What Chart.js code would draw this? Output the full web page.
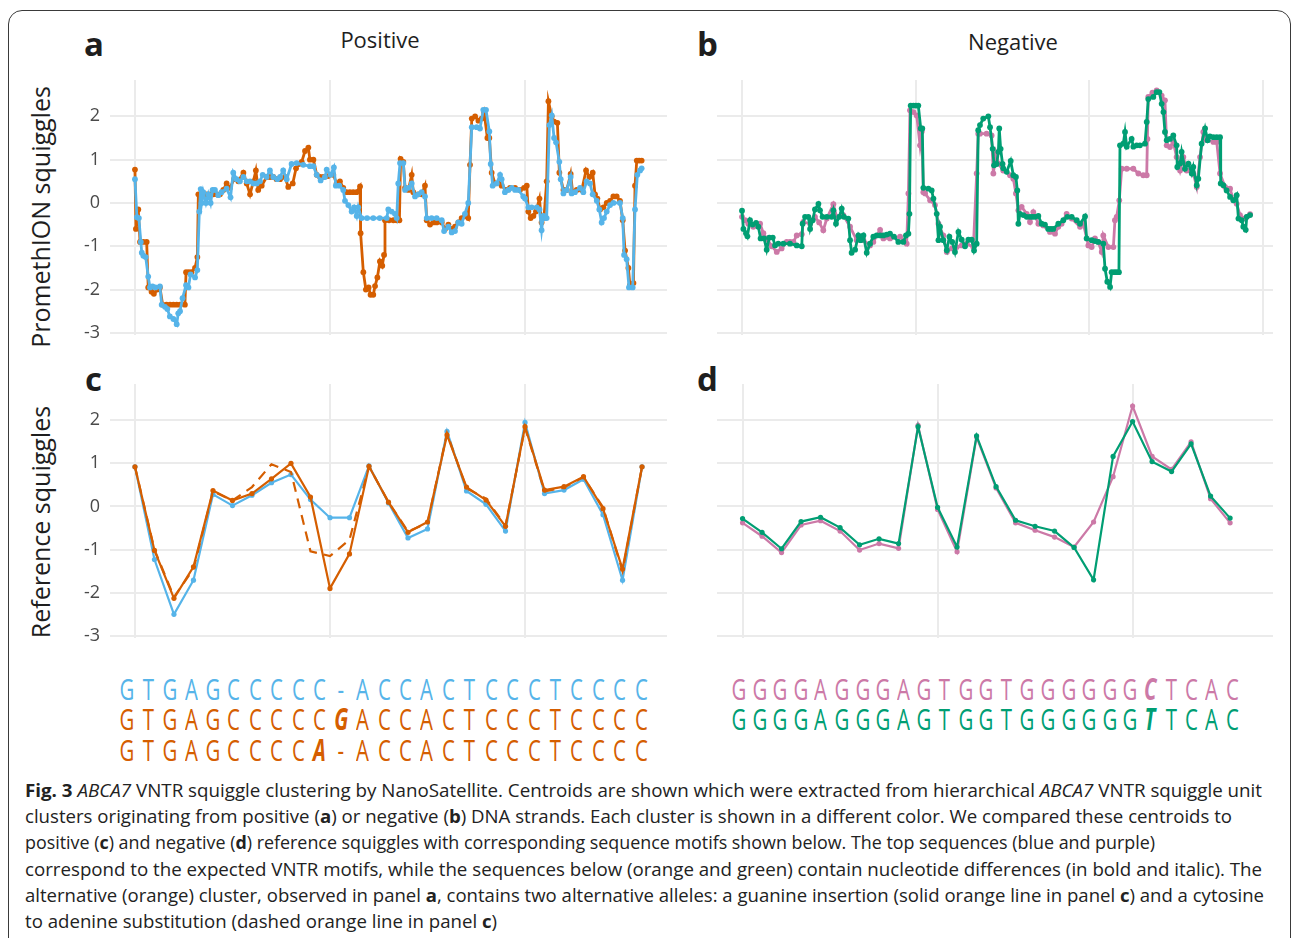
<!DOCTYPE html>
<html>
<head>
<meta charset="utf-8">
<script src="https://cdn.jsdelivr.net/npm/chart.js@4.4.1/dist/chart.umd.min.js"></script>
<style>
  body { margin: 0; width: 1292px; height: 938px; overflow: hidden; background: #fff;
         font-family: "Open Sans", sans-serif; color: #1e1e1e; position: relative; }
  .frame { position: absolute; left: 8px; top: 10px; width: 1283px; height: 980px;
           border: 1.5px solid #3a3a3a; border-radius: 14px; box-sizing: border-box; }
  canvas { position: absolute; }
  .tag { position: absolute; font-weight: 700; font-size: 33px; line-height: 1; }
  .title { position: absolute; font-size: 22px; line-height: 1; transform: translateX(-50%); white-space: nowrap; }
  .ytitle { position: absolute; font-size: 25px; line-height: 1; white-space: nowrap;
            transform: translate(-50%, -50%) rotate(-90deg); }
  .seq { position: absolute; font-size: 30px; line-height: 1; white-space: nowrap; }
  .seq .c { display: inline-block; text-align: center; }
  .seq .c span { display: inline-block; transform: scaleX(0.68); }
  .seq .c b { display: inline-block; font-style: italic; transform: scaleX(0.68); }
  .cap { position: absolute; left: 25px; font-size: 18px; line-height: 1; white-space: nowrap;
         transform-origin: 0 50%; color: #222; }
</style>
</head>
<body>
<div class="frame"></div>

<div class="tag" style="left:84px;top:27px">a</div>
<div class="tag" style="left:697px;top:27px">b</div>
<div class="tag" style="left:85px;top:362px">c</div>
<div class="tag" style="left:697px;top:362px">d</div>
<div class="title" style="left:380px;top:28px">Positive</div>
<div class="title" style="left:1013px;top:30px">Negative</div>
<div class="ytitle" style="left:40px;top:217px">PromethION squiggles</div>
<div class="ytitle" style="left:40px;top:522px">Reference squiggles</div>

<canvas id="pa" width="612" height="275" style="left:60px;top:70px"></canvas>
<canvas id="pb" width="570" height="275" style="left:710px;top:70px"></canvas>
<canvas id="pc" width="612" height="274" style="left:60px;top:374px"></canvas>
<canvas id="pd" width="570" height="274" style="left:710px;top:374px"></canvas>

<div id="seqs"></div>
<div id="caption"></div>

<script>
// panel a: positive strand centroids, [position, level]
const posBlue = [[0,0.55],[1,-0.33],[2,-0.35],[3,-0.9],[3.5,-1.15],[4.3,-1.22],[5.5,-1.25],[6.8,-1.7],[7.7,-1.95],[9,-1.93],[10.5,-1.95],[12.8,-1.93],[13.7,-2.35],[15.4,-2.4],[16.6,-2.45],[17.9,-2.62],[19.7,-2.68],[21.4,-2.8],[22.2,-2.55],[23.1,-2.5],[24.4,-2.2],[26.2,-1.9],[27.4,-1.95],[28.5,-1.65],[30.8,-1.72],[32,-1.55],[33,-0.2],[33.7,0.32],[34.2,0],[35,0.25],[36.4,0],[37.6,0.2],[38.8,0],[39.8,0.3],[41,0.3],[42.7,0.18],[44.4,0.25],[47,0.33],[49,0.13],[50.4,0.7],[52.1,0.55],[53.8,0.5],[55.6,0.6],[57.3,0.5],[59,0.5],[60.7,0.45],[62.4,0.45],[64.1,0.5],[65.5,0.65],[67.5,0.6],[69.2,0.75],[70.9,0.6],[73,0.55],[74.4,0.6],[76,0.75],[77.8,0.55],[80.3,0.9],[82.9,0.92],[86.3,0.88],[89.7,0.85],[91.5,0.85],[93.2,0.65],[95.2,0.52],[97.4,0.6],[98.3,0.77],[100.3,0.65],[102,0.82],[103,0.4],[104.8,0.4],[106.8,0.3],[107.7,0.05],[109.4,-0.05],[111.1,-0.2],[112.3,-0.1],[113.7,-0.3],[114.5,-0.1],[116.2,-0.35],[119,-0.35],[122.2,-0.35],[125.5,-0.35],[129.1,-0.35],[129.9,-0.15],[131.6,-0.2],[133.3,-0.25],[134.2,-0.35],[135,0.45],[135.9,0.92],[137.6,0.92],[138.5,0.3],[140.2,0.35],[141.9,0.45],[143.6,0.15],[145.3,0.2],[147,0.25],[148.7,0.15],[149.6,-0.35],[152.1,-0.35],[154.7,-0.35],[157.3,-0.4],[158.5,-0.65],[160.7,-0.55],[162.4,-0.68],[164.1,-0.65],[165.8,-0.45],[167.5,-0.48],[169.2,-0.25],[170.9,0],[172.7,1.75],[175.2,1.75],[176.9,1.72],[178.6,2.15],[180,2.15],[181.7,1.65],[182.4,0.9],[183.4,0.4],[185.5,0.45],[187.2,0.65],[188,0.55],[189.7,0.25],[191.5,0.3],[193.2,0.35],[194.9,0.3],[196.6,0.3],[199.1,0.15],[200,0.1],[201.7,-0.1],[203.4,-0.1],[206,-0.1],[207.4,-0.15],[208.5,-0.63],[209.4,-0.3],[210.3,-0.35],[211.1,-0.35],[212.5,1.8],[213.7,2.02],[214.9,1.5],[215.9,1.4],[217.6,0.95],[218.3,0.55],[219.7,0.22],[221.4,0.3],[223.4,0.6],[223.9,0.22],[225.6,0.25],[228.2,0.35],[229.9,0.25],[231.6,0.5],[233.3,0.45],[234.7,0.2],[236.8,0.05],[238.1,-0.15],[239.3,-0.45],[240.5,-0.35],[241.9,-0.2],[243.6,-0.05],[245.3,0],[248.7,0],[250.1,-0.35],[250.8,-1.2],[252.1,-1.3],[253.3,-1.95],[255.2,-1.95],[256.4,-0.15],[257.6,0.65],[259,0.75],[259.8,0.8]];
const posOrange = [[0,0.77],[0.5,-0.6],[1.7,-0.15],[2.6,-0.9],[4.3,-0.9],[6,-0.9],[6.8,-1.95],[8.5,-2.05],[9.7,-2.1],[11.4,-2.0],[12.8,-1.95],[14.2,-2.35],[16.2,-2.35],[18,-2.35],[19.7,-2.35],[21.4,-2.35],[23.1,-2.35],[25.6,-2.35],[26.2,-1.6],[27.6,-1.6],[29,-1.6],[30.8,-1.5],[32,-1.25],[32.5,0.2],[33.3,0.2],[35,0.2],[36.8,0.2],[38.5,0.2],[40.2,0.2],[42,0.2],[43.6,0.2],[45.3,0.3],[47,0.45],[48.7,0.35],[50.8,0.55],[53,0.5],[55.6,0.7],[57.3,0.45],[59,0.2],[60.7,0.5],[62,0.75],[63.2,0.3],[65,0.4],[67.5,0.6],[69.2,0.6],[70.9,0.6],[72.6,0.55],[74.4,0.55],[76.9,0.6],[78.6,0.37],[80.9,0.45],[82.6,0.8],[84,0.9],[85.5,0.95],[87.2,1.2],[88.9,1.28],[89.7,1.0],[91.5,1.0],[93.2,0.65],[94.9,0.6],[96.6,0.6],[99,0.62],[101.7,0.65],[103.4,0.45],[105.1,0.5],[106.8,0.35],[108.5,0.25],[110.2,0.25],[111.9,0.25],[113.6,0.25],[115.4,0.38],[115.7,-0.7],[117.1,-1.6],[118.4,-2.0],[119.8,-1.95],[120.8,-2.12],[122.2,-2.12],[123.1,-1.92],[124.3,-1.72],[125.6,-1.35],[126.8,-1.45],[127.7,-1.2],[128.2,-0.4],[130.3,-0.4],[132.5,-0.4],[134.2,-0.4],[135.6,-0.4],[136.2,1.02],[137.6,0.95],[138.5,0.35],[140.2,0.3],[141.9,0.65],[142.7,0.25],[145.3,0.2],[147,0.2],[148.7,0.4],[149.6,-0.4],[151.3,-0.5],[153,-0.45],[154.7,-0.45],[157.3,-0.45],[159,-0.6],[160.7,-0.5],[162.4,-0.6],[164.1,-0.55],[165.8,-0.45],[167.5,-0.35],[169.2,-0.3],[170.1,-0.3],[170.9,-0.35],[171.8,0.88],[172.7,1.95],[174.4,2.0],[176.1,1.9],[177.8,1.95],[179,2.1],[180.7,1.5],[181.7,1.5],[182.9,0.7],[184.6,0.45],[187.2,0.5],[188,0.4],[190.6,0.3],[192.3,0.35],[194.9,0.35],[197.4,0.3],[199.5,0.35],[200.9,0.4],[201.7,-0.2],[202.9,-0.35],[204.3,-0.3],[205.6,-0.2],[207.4,0.1],[208.5,-0.45],[209.7,-0.35],[211.1,0.5],[212,2.35],[213.7,2.0],[214.9,1.88],[216.6,1.85],[217.6,0.7],[219.7,0.3],[221.4,0.3],[223.4,0.67],[224.4,0.25],[226.5,0.3],[229.1,0.3],[231.3,0.75],[233,0.6],[234.7,0.7],[235.9,0.2],[237.1,0.1],[238.5,-0.15],[240.2,-0.1],[241.9,0],[243.6,0.05],[245.3,0.15],[247,0.15],[248.7,0.05],[250.1,-0.4],[251.3,-1.1],[253,-1.5],[253.8,-1.9],[255.6,-1.85],[256.4,0.4],[257.3,0.98],[258.5,0.98],[259.8,0.98]];

// panel b: negative strand centroids
const negGreen = [[0,-0.18],[0.8,-0.6],[2.3,-0.7],[3.1,-0.77],[4.6,-0.4],[6.1,-0.5],[8.1,-0.46],[9.4,-0.55],[10.7,-0.82],[12.7,-0.82],[14.2,-1.08],[15.7,-0.8],[17.7,-0.8],[19,-0.98],[20.9,-0.94],[23.8,-0.94],[27.6,-0.94],[31.5,-0.98],[34.4,-1.0],[34.9,-0.48],[36.3,-0.32],[38.2,-0.32],[39.2,-0.6],[40.7,-0.4],[42,-0.15],[44,-0.02],[44.9,-0.17],[46.4,-0.32],[48.8,-0.32],[51.6,-0.32],[52.6,-0.17],[54.1,-0.48],[56,-0.32],[57.4,-0.13],[58.7,-0.32],[61.2,-0.36],[62.2,-0.86],[63.1,-1.15],[65.1,-1.08],[67,-0.75],[68.3,-0.86],[69.9,-0.75],[71.8,-1.15],[73.7,-0.94],[75.6,-0.78],[77.5,-0.75],[79.5,-0.75],[81.4,-0.75],[83.3,-0.73],[85.2,-0.71],[87.5,-0.78],[90,-0.9],[92.9,-0.9],[94.4,-0.75],[95.8,-0.71],[96.4,-0.25],[97.1,2.25],[98.7,2.25],[100.1,2.25],[101.5,2.25],[102.9,1.72],[103.8,1.72],[104.4,0.35],[107.3,0.33],[109.2,0.29],[110.2,0.1],[112.1,-0.25],[113.1,-0.86],[114,-0.55],[115.9,-0.86],[117.9,-1.09],[119.4,-0.78],[121,-0.9],[122.6,-1.13],[124.6,-0.67],[126.5,-0.85],[128.4,-1.0],[130.3,-0.85],[132.2,-0.85],[133.6,-1.1],[135.1,-0.94],[136,1.68],[137,1.8],[138.9,1.95],[141.8,2.0],[142.8,1.75],[144.3,1.25],[145.1,0.87],[146.6,0.9],[147.6,1.18],[148.1,1.72],[148.9,1.25],[150,0.9],[150.4,0.8],[152.4,0.72],[154.7,0.97],[156.2,0.64],[157.7,0.6],[158.5,0.29],[159.1,-0.48],[160,-0.25],[162,-0.28],[163.9,-0.32],[165.8,-0.32],[167.3,-0.32],[168.7,-0.32],[170.6,-0.3],[172.5,-0.48],[174.4,-0.5],[176.3,-0.6],[177.8,-0.6],[179.2,-0.6],[182.1,-0.48],[185,-0.4],[187.3,-0.32],[189.8,-0.32],[192.7,-0.4],[194.6,-0.48],[197.5,-0.31],[198.4,-0.82],[201.3,-0.86],[203.2,-0.88],[205.1,-0.9],[208,-0.94],[209,-1.52],[210.3,-1.82],[211.9,-1.94],[212.8,-1.6],[214.3,-1.6],[215.7,-1.6],[217,-1.6],[217.6,1.33],[219.5,1.37],[220.5,1.64],[221.5,1.3],[224.3,1.48],[225.3,1.3],[227.2,1.33],[229.1,1.33],[232,1.37],[233,1.87],[233.9,2.4],[236.8,2.45],[238.7,2.56],[240.3,2.56],[241.6,2.29],[242.6,2.1],[243.5,1.64],[244.5,1.45],[246.4,1.48],[248.3,1.56],[250.2,1.33],[250.6,0.83],[252.2,0.91],[253.1,1.18],[255,0.79],[257,0.91],[258.9,0.68],[259.8,0.83],[261.8,0.41],[262.7,0.56],[264.6,1.37],[266.6,1.72],[268.1,1.45],[269.4,1.54],[271.4,1.52],[273.3,1.52],[275.2,1.52],[275.6,0.45],[277.1,0.41],[279,0.29],[281,0.14],[282.9,0.06],[284.8,0.18],[285.8,-0.36],[287.7,-0.4],[288.6,-0.55],[290,-0.62],[290.6,-0.32],[292.5,-0.28]];
const negPink = [[0,-0.32],[1.7,-0.4],[3.6,-0.48],[6.5,-0.55],[10.4,-0.48],[12.3,-0.7],[14.7,-0.85],[17.1,-1.0],[20,-1.13],[22.8,-1.05],[25.7,-0.9],[27.6,-0.9],[29.6,-0.9],[31.5,-0.75],[34.4,-0.72],[35.3,-0.44],[39.2,-0.48],[42,-0.32],[44.4,-0.45],[46.8,-0.63],[48.8,-0.36],[52.6,-0.03],[54.5,-0.32],[58.3,-0.28],[62.2,-0.55],[66,-0.86],[69.9,-0.86],[73.7,-0.98],[75.6,-0.9],[79.5,-0.62],[81.4,-0.82],[85.2,-0.82],[91,-0.78],[94.8,-0.94],[95.8,0.22],[96.7,2.14],[98.7,2.1],[100.6,2.02],[102.5,1.33],[103.5,1.65],[104.4,0.25],[105.4,0.22],[108.3,0.06],[111.1,-0.05],[113.1,-0.48],[115.9,-0.75],[117.9,-1.13],[120.8,-1.05],[123.6,-1.02],[126.5,-0.98],[129.4,-0.94],[133.2,-1.02],[135.1,0.68],[136,1.6],[137,1.6],[140.8,1.6],[143.7,1.56],[144.7,0.68],[146.2,1.14],[147.6,0.91],[150.4,0.75],[154.3,0.64],[156.2,0.56],[157.7,0.22],[159.1,-0.17],[161,-0.09],[163.9,-0.25],[165.8,-0.44],[167.7,-0.21],[170.6,-0.48],[173.5,-0.52],[177.3,-0.67],[180.2,-0.71],[182.1,-0.55],[184,-0.48],[186.9,-0.25],[189.8,-0.36],[194.6,-0.55],[196.5,-0.48],[199.4,-0.98],[201.3,-1.02],[203.2,-0.82],[205.1,-0.9],[207.1,-1.13],[208,-0.75],[210.9,-1.02],[213.8,-1.02],[214.7,-0.4],[215.7,-0.32],[217.2,0.06],[218.6,0.79],[221.5,0.79],[225.3,0.79],[228.2,0.68],[231,0.64],[233,0.64],[233.4,1.48],[233.9,2.45],[236.3,2.55],[238.7,2.6],[241.6,2.48],[243.5,2.37],[244.5,1.33],[246.4,1.29],[248.3,1.41],[250.2,1.06],[252.2,0.75],[254.1,1.06],[256,0.75],[259.8,0.68],[261.8,0.37],[263.7,1.06],[265.6,1.64],[267.5,1.45],[271.4,1.41],[273.3,1.41],[275.2,0.68],[278.1,0.37],[281,0.33],[282.9,0.06],[284.8,-0.02],[286.7,-0.28],[288.6,-0.36],[290.6,-0.32],[292.5,-0.26]];

// panel c: positive reference squiggles, one value per k-mer
const refPosIdx = [0,1,2,3,4,5,6,7,8,9,10,11,12,13,14,15,16,17,18,19,20,21,22,23,24,25,26];
const refPosBlue = [0.92,-1.23,-2.5,-1.71,0.28,0.02,0.26,0.55,0.74,0.16,-0.26,-0.26,0.94,0.08,-0.73,-0.52,1.74,0.36,0.05,-0.57,1.95,0.3,0.38,0.63,-0.19,-1.71,0.92];
const refPosInsG = [0.92,-1.02,-2.13,-1.4,0.37,0.14,0.3,0.64,1.0,0.22,-1.9,-1.1,0.93,0.1,-0.6,-0.36,1.66,0.45,0.15,-0.46,1.85,0.38,0.46,0.69,-0.05,-1.45,0.92];
const refPosSubA = [0.92,-1.0,-2.1,-1.45,0.35,0.14,0.45,0.98,0.8,-1.04,-1.15,-0.77,0.93,0.1,-0.58,-0.38,1.7,0.42,0.18,-0.45,1.83,0.35,0.44,0.68,-0.02,-1.5,0.92];

// panel d: negative reference squiggles
const refNegIdx = [0,1,2,3,4,5,6,7,8,9,10,11,12,13,14,15,16,17,18,19,20,21,22,23,24,25];
const refNegPink = [-0.38,-0.69,-1.07,-0.43,-0.33,-0.57,-1.01,-0.86,-0.97,1.88,-0.07,-1.05,1.61,0.43,-0.38,-0.55,-0.71,-0.94,-0.36,0.69,2.33,1.16,0.86,1.5,0.18,-0.38];
const refNegGreen = [-0.28,-0.6,-0.98,-0.35,-0.25,-0.49,-0.89,-0.75,-0.86,1.85,-0.02,-0.94,1.64,0.46,-0.32,-0.46,-0.57,-0.95,-1.7,1.16,1.97,1.04,0.81,1.45,0.24,-0.27];

// sequence motifs and the position of the differing base
const seqBlue = 'GTGAGCCCCC-ACCACTCCCTCCCC';
const seqOrangeIns = 'GTGAGCCCCCGACCACTCCCTCCCC';
const seqOrangeSub = 'GTGAGCCCCA-ACCACTCCCTCCCC';
const seqPink = 'GGGGAGGGAGTGGTGGGGGGCTCAC';
const seqGreen = 'GGGGAGGGAGTGGTGGGGGGTTCAC';

const BLUE = '#56B4E9', ORANGE = '#D55E00', PINK = '#CC79A7', GREEN = '#009E73';
const GRID = '#ebebeb';

function squiggle(pairs, color, w, r) {
  return {
    data: pairs.map(p => ({ x: p[0], y: p[1] })),
    borderColor: color, backgroundColor: color, borderWidth: w,
    pointRadius: r, pointBorderWidth: 0, pointBackgroundColor: color, tension: 0
  };
}
function reference(xs, ys, color, dash) {
  return {
    data: xs.map((x, i) => ({ x: x, y: ys[i] })),
    borderColor: color, backgroundColor: color, borderWidth: 2.2,
    borderDash: dash || [], pointRadius: dash ? 0 : 2.6, pointBorderWidth: 0,
    pointBackgroundColor: color, tension: 0
  };
}

function panel(id, datasets, xMin, xMax, xStep, showY, pad) {
  return new Chart(document.getElementById(id), {
    type: 'line',
    data: { datasets: datasets },
    options: {
      responsive: false, animation: false, events: [],
      layout: { padding: pad },
      plugins: { legend: { display: false }, tooltip: { enabled: false } },
      scales: {
        x: {
          type: 'linear', min: xMin, max: xMax,
          border: { display: false },
          grid: { color: GRID, lineWidth: 2, drawTicks: false },
          ticks: { display: false, stepSize: xStep, includeBounds: false },
          afterFit: s => { s.height = 0; }
        },
        y: {
          min: -3.05, max: 2.84,
          border: { display: false },
          grid: { color: GRID, lineWidth: 2, drawTicks: false },
          ticks: { display: showY, stepSize: 1, includeBounds: false, padding: 10,
                   color: '#4a4a4a', font: { family: 'Open Sans', size: 18 } },
          // keep the plot box where the padding puts it
          afterFit: s => { s.width = showY ? 50 : 0; s.paddingTop = 0; s.paddingBottom = 0; }
        }
      }
    }
  });
}

panel('pa', [squiggle(posBlue, BLUE, 2.8, 2.9), squiggle(posOrange, ORANGE, 2.8, 2.9)],
      -12.8, 272.8, 100, true, { top: 10, bottom: 10, left: 0, right: 5 });
panel('pb', [squiggle(negGreen, GREEN, 2.8, 2.9), squiggle(negPink, PINK, 2.8, 2.9)],
      -14.4, 305.7, 100, false, { top: 10, bottom: 10, left: 7, right: 7 });
panel('pc', [reference(refPosIdx, refPosSubA, ORANGE, [10, 7]),
             reference(refPosIdx, refPosInsG, ORANGE),
             reference(refPosIdx, refPosBlue, BLUE)],
      -1.28, 27.28, 10, true, { top: 10, bottom: 10, left: 0, right: 5 });
panel('pd', [reference(refNegIdx, refNegGreen, GREEN), reference(refNegIdx, refNegPink, PINK)],
      -1.31, 27.2, 10, false, { top: 10, bottom: 10, left: 7, right: 7 });

// sequences: one fixed-width cell per base
function seqLine(str, mark, color, left, top, pitch) {
  const div = document.createElement('div');
  div.className = 'seq';
  div.style.left = left + 'px';
  div.style.top = top + 'px';
  div.style.color = color;
  let html = '';
  for (let i = 0; i < str.length; i++) {
    const inner = i === mark ? '<b>' + str[i] + '</b>' : '<span>' + str[i] + '</span>';
    html += '<span class="c" style="width:' + pitch + 'px">' + inner + '</span>';
  }
  div.innerHTML = html;
  document.getElementById('seqs').appendChild(div);
}
seqLine(seqBlue, -1, BLUE, 116, 674, 21.45);
seqLine(seqOrangeIns, 10, ORANGE, 116, 704, 21.45);
seqLine(seqOrangeSub, 9, ORANGE, 116, 735, 21.45);
seqLine(seqPink, 20, PINK, 728, 674, 20.6);
seqLine(seqGreen, 20, GREEN, 728, 704, 20.6);

// caption, each line stretched to the width it has in the figure
const captionLines = [
  ['<b>Fig. 3</b> <i>ABCA7</i> VNTR squiggle clustering by NanoSatellite. Centroids are shown which were extracted from hierarchical <i>ABCA7</i> VNTR squiggle unit', 1237],
  ['clusters originating from positive (<b>a</b>) or negative (<b>b</b>) DNA strands. Each cluster is shown in a different color. We compared these centroids to', 1207],
  ['positive (<b>c</b>) and negative (<b>d</b>) reference squiggles with corresponding sequence motifs shown below. The top sequences (blue and purple)', 1130],
  ['correspond to the expected VNTR motifs, while the sequences below (orange and green) contain nucleotide differences (in bold and italic). The', 1237],
  ['alternative (orange) cluster, observed in panel <b>a</b>, contains two alternative alleles: a guanine insertion (solid orange line in panel <b>c</b>) and a cytosine', 1239],
  ['to adenine substitution (dashed orange line in panel <b>c</b>)', 472]
];
captionLines.forEach((ln, i) => {
  const d = document.createElement('div');
  d.className = 'cap';
  d.style.top = (781 + i * 26.2) + 'px';
  d.innerHTML = ln[0];
  document.getElementById('caption').appendChild(d);
  const w = d.getBoundingClientRect().width;
  d.style.transform = 'scaleX(' + (ln[1] / w).toFixed(4) + ')';
});
</script>
</body>
</html>
